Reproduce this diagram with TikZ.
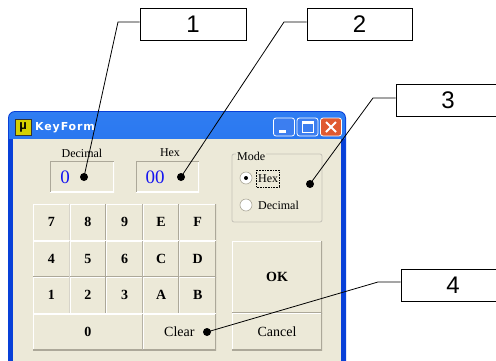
\documentclass[tikz,border=0pt]{standalone}
\usepackage{fontspec}
\setmainfont{Liberation Serif}
\newfontfamily\callfont{Liberation Sans}
\newfontfamily\titlefont[LetterSpace=8]{DejaVu Sans}
\definecolor{winbg}{HTML}{ECE9D8}
\definecolor{winblue}{HTML}{0840D8}
\definecolor{titletop}{HTML}{2F7DF2}
\definecolor{titlebot}{HTML}{0048DE}
\definecolor{btnshadow}{HTML}{ACA899}
\definecolor{valblue}{HTML}{1515F0}
\definecolor{capblue}{HTML}{3C7EF0}
\definecolor{capred}{HTML}{E05A30}
\definecolor{iconyel}{HTML}{D4D000}
\begin{document}
\begin{tikzpicture}[x=1pt,y=-1pt,
  btn/.style={fill=winbg, inner sep=0pt, font=\fontsize{14}{16}\selectfont,
    path picture={
      \draw[white,line width=2pt] (path picture bounding box.south west) -- (path picture bounding box.north west) -- (path picture bounding box.north east);
      \draw[btnshadow,line width=2pt] (path picture bounding box.north east) -- (path picture bounding box.south east) -- (path picture bounding box.south west);
    }},
  keybtn/.style={btn, font=\fontsize{14}{16}\selectfont\bfseries, minimum width=36.6pt, minimum height=36.5pt},
  tbox/.style={fill=winbg, inner sep=0pt, minimum height=31pt,
    path picture={
      \draw[white,line width=2pt] (path picture bounding box.north east) -- (path picture bounding box.south east) -- (path picture bounding box.south west);
      \draw[btnshadow,line width=2pt] (path picture bounding box.south west) -- (path picture bounding box.north west) -- (path picture bounding box.north east);
    }},
  lbl/.style={inner sep=0pt, font=\fontsize{12}{14}\selectfont},
  valtxt/.style={inner sep=0pt, text=valblue, font=\fontsize{19}{21}\selectfont},
  callout/.style={draw=black, fill=white, line width=0.8pt, inner sep=0pt,
    minimum height=32pt, font=\callfont\fontsize{24}{26}\selectfont},
  dot/.style={circle, fill=black, inner sep=0pt, minimum size=8pt},
  leader/.style={black, line width=0.8pt},
  radio/.style={circle, fill=white, draw=btnshadow, line width=0.6pt, inner sep=0pt, minimum size=12pt},
  capbtn/.style={draw=white, line width=0.8pt, rounded corners=2.5pt, minimum width=21pt, minimum height=18pt, inner sep=0pt}
]
\useasboundingbox (0,0) rectangle (496,360);
\clip (0,0) rectangle (496,360);
\fill[white] (0,0) rectangle (496,360);

% window frame
\fill[winblue, rounded corners=7pt] (8,380) -- (8,111) -- (346,111) -- (346,380);
\shade[top color=titletop, bottom color=titlebot, rounded corners=6pt] (9,380) -- (9,112) -- (345,112) -- (345,380);
\fill[winblue] (9,139) rectangle (345,380);
\fill[winbg] (13,139) rectangle (341,380);

% title bar
\node[draw=black!80, fill=iconyel, minimum size=16pt, inner sep=0pt,
      font=\callfont\bfseries\fontsize{13}{13}\selectfont] (icon) at (23,127.5) {µ};
\node[anchor=west, inner sep=0pt, text=white, font=\titlefont\bfseries\fontsize{11}{12}\selectfont] (title) at (35,127.5) {KeyForm};
\node[capbtn, fill=capblue] (minb) at (284,127) {};
\fill[white] ([xshift=-5pt,yshift=-3pt]minb.center) rectangle ([xshift=2pt,yshift=-5.5pt]minb.center);
\node[capbtn, fill=capblue] (maxb) at (307.5,127) {};
\draw[white, line width=0.9pt] ([xshift=-5.5pt,yshift=-5.5pt]maxb.center) rectangle ([xshift=5.5pt,yshift=5.5pt]maxb.center);
\draw[white, line width=2pt] ([xshift=-5.5pt,yshift=4.5pt]maxb.center) -- ([xshift=5.5pt,yshift=4.5pt]maxb.center);
\node[capbtn, fill=capred] (closeb) at (331,127) {};
\draw[white, line width=1.8pt] ([xshift=-5pt,yshift=-5pt]closeb.center) -- ([xshift=5pt,yshift=5pt]closeb.center);
\draw[white, line width=1.8pt] ([xshift=-5pt,yshift=5pt]closeb.center) -- ([xshift=5pt,yshift=-5pt]closeb.center);

% display fields
\node[lbl] (declbl) at (82,153) {Decimal};
\node[tbox, minimum width=64pt] (decbox) at (82,176.5) {};
\node[valtxt] (decval) at (65,177) {0};
\node[lbl] (hexlbl) at (170,153) {Hex};
\node[tbox, minimum width=63pt] (hexbox) at (167.5,176.5) {};
\node[valtxt] (hexval) at (155,177) {00};

% mode group
\draw[btnshadow!70, line width=0.8pt, rounded corners=2pt] (232,154) rectangle (322,222);
\node[lbl, fill=winbg, anchor=west, inner xsep=1pt] (modelbl) at (236,156) {Mode};
\node[radio] (rhex) at (246,178) {};
\fill[black] (rhex.center) circle (2pt);
\node[lbl, anchor=west] (hextxt) at (258,178.5) {Hex};
\draw[black, densely dotted, line width=0.6pt] (256,170) rectangle (279,187);
\node[radio] (rdec) at (246,205) {};
\node[lbl, anchor=west] (dectxt) at (258,205) {Decimal};

% keypad
\node[keybtn] (k7) at (51.3,222.25) {7};
\node[keybtn] (k8) at (87.9,222.25) {8};
\node[keybtn] (k9) at (124.5,222.25) {9};
\node[keybtn] (kE) at (161.1,222.25) {E};
\node[keybtn] (kF) at (197.7,222.25) {F};
\node[keybtn] (k4) at (51.3,258.75) {4};
\node[keybtn] (k5) at (87.9,258.75) {5};
\node[keybtn] (k6) at (124.5,258.75) {6};
\node[keybtn] (kC) at (161.1,258.75) {C};
\node[keybtn] (kD) at (197.7,258.75) {D};
\node[keybtn] (k1) at (51.3,295.25) {1};
\node[keybtn] (k2) at (87.9,295.25) {2};
\node[keybtn] (k3) at (124.5,295.25) {3};
\node[keybtn] (kA) at (161.1,295.25) {A};
\node[keybtn] (kB) at (197.7,295.25) {B};
\node[keybtn, minimum width=109.8pt] (k0) at (87.9,331.75) {0};
\node[btn, minimum width=73.2pt, minimum height=36.5pt] (kclr) at (179.4,331.75) {Clear};
\node[btn, font=\fontsize{14}{16}\selectfont\bfseries, minimum width=90pt, minimum height=72pt] (okb) at (277,277) {OK};
\node[btn, minimum width=90pt, minimum height=37pt] (cancelb) at (277,331.5) {Cancel};

% callouts
\node[callout, minimum width=106pt] (c1) at (193,24) {1};
\node[callout, minimum width=105pt] (c2) at (359.5,24) {2};
\node[callout, minimum width=104pt] (c3) at (448,100) {3};
\node[callout, minimum width=104pt] (c4) at (453,285) {4};

\node[dot] (d1) at (84,177) {};
\node[dot] (d2) at (181,177) {};
\node[dot] (d3) at (310,184) {};
\node[dot] (d4) at (207,332) {};
\coordinate (b1) at (118,22);
\coordinate (b2) at (284,22);
\coordinate (b3) at (373,98);
\coordinate (b4) at (378,282);
\draw[leader] (d1.center) -- (b1) -- (b1 -| c1.west);
\draw[leader] (d2.center) -- (b2) -- (b2 -| c2.west);
\draw[leader] (d3.center) -- (b3) -- (b3 -| c3.west);
\draw[leader] (d4.center) -- (b4) -- (b4 -| c4.west);
\end{tikzpicture}
\end{document}
